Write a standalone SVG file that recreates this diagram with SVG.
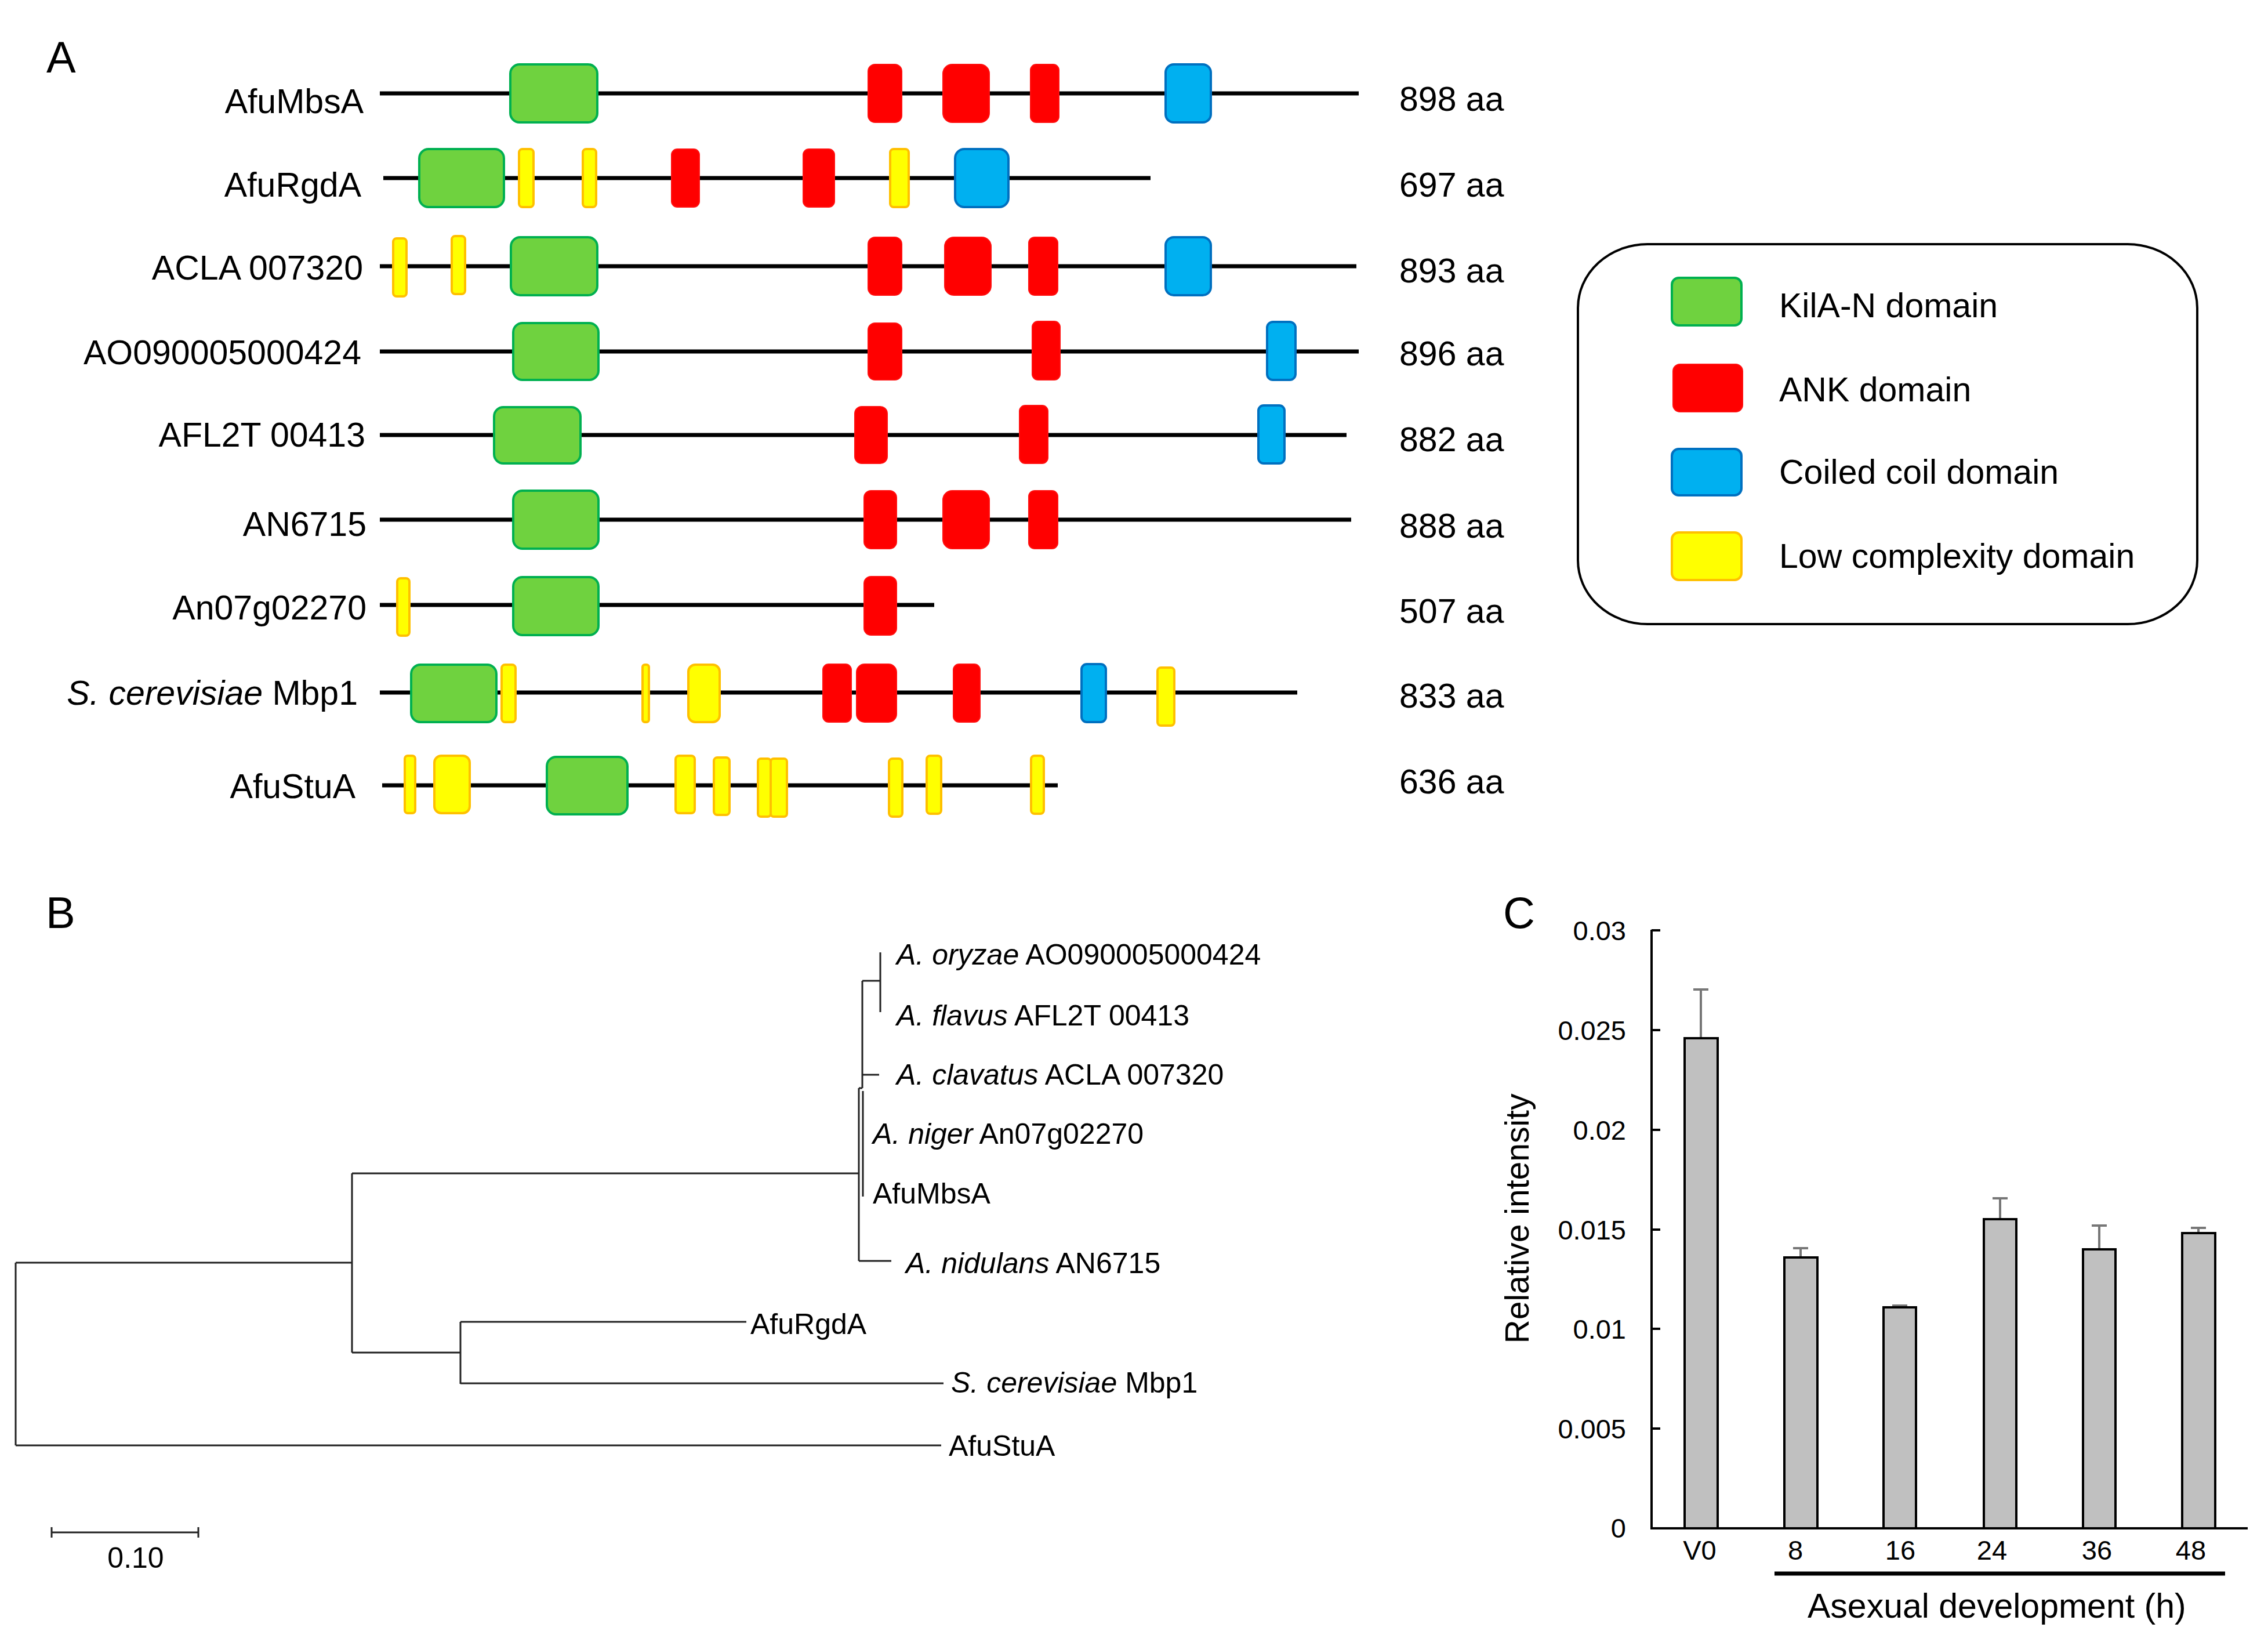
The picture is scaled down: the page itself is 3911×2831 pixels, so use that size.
<svg xmlns="http://www.w3.org/2000/svg" width="3911" height="2831" viewBox="0 0 3911 2831">
<style>
text{font-family:"Liberation Sans",Arial,sans-serif;fill:#000}
.lbl{font-size:59px;text-anchor:end}
.aa{font-size:59px}
.leg{font-size:59px}
.pl{font-size:76px}
.tl{font-size:50px}
.tk{font-size:47px;text-anchor:end}
.xl{font-size:47px;text-anchor:middle}
.bb{stroke:#000;stroke-width:7;fill:none}
.g{fill:#6fd23f;stroke:#00b050;stroke-width:4}
.r{fill:#ff0000;stroke:#ff1010;stroke-width:2}
.b{fill:#00b0f0;stroke:#0070c0;stroke-width:4}
.y{fill:#ffff00;stroke:#ffc000;stroke-width:4}
.tr{stroke:#222;stroke-width:3;fill:none}
.ax{stroke:#000;stroke-width:4;fill:none}
.bar{fill:#c0c0c0;stroke:#000;stroke-width:4}
.err{stroke:#777;stroke-width:4;fill:none}
</style>
<rect width="3911" height="2831" fill="#fff"/>
<g id="panelA">
<text class="pl" x="80" y="125">A</text>
<g id="rowA1">
<line class="bb" x1="655" y1="161" x2="2343" y2="161"/>
<rect class="g" x="880" y="111" width="150" height="100" rx="16"/>
<rect class="r" x="1497" y="111" width="58" height="100" rx="12"/>
<rect class="r" x="1626" y="111" width="80" height="100" rx="16"/>
<rect class="r" x="1777" y="111" width="49" height="100" rx="10"/>
<rect class="b" x="2010" y="111" width="78" height="100" rx="14"/>
<text class="lbl" x="627" y="195">AfuMbsA</text>
<text class="aa" x="2413" y="191">898 aa</text>
</g>
<g id="rowA2">
<line class="bb" x1="661" y1="307" x2="1984" y2="307"/>
<rect class="g" x="723" y="257" width="146" height="100" rx="16"/>
<rect class="y" x="895" y="257" width="25" height="100" rx="6"/>
<rect class="y" x="1005" y="257" width="23" height="100" rx="6"/>
<rect class="r" x="1158" y="257" width="48" height="100" rx="10"/>
<rect class="r" x="1385" y="257" width="54" height="100" rx="10"/>
<rect class="y" x="1535" y="257" width="32" height="100" rx="6"/>
<rect class="b" x="1647" y="257" width="92" height="100" rx="16"/>
<text class="lbl" x="623" y="339">AfuRgdA</text>
<text class="aa" x="2413" y="339">697 aa</text>
</g>
<g id="rowA3">
<line class="bb" x1="655" y1="459" x2="2339" y2="459"/>
<rect class="y" x="678" y="411" width="23" height="100" rx="6"/>
<rect class="y" x="779" y="407" width="23" height="100" rx="6"/>
<rect class="g" x="881" y="409" width="149" height="100" rx="16"/>
<rect class="r" x="1497" y="409" width="58" height="100" rx="12"/>
<rect class="r" x="1629" y="409" width="80" height="100" rx="16"/>
<rect class="r" x="1774" y="409" width="50" height="100" rx="10"/>
<rect class="b" x="2010" y="409" width="78" height="100" rx="14"/>
<text class="lbl" x="626" y="482">ACLA 007320</text>
<text class="aa" x="2413" y="487">893 aa</text>
</g>
<g id="rowA4">
<line class="bb" x1="655" y1="606" x2="2343" y2="606"/>
<rect class="g" x="885" y="557" width="147" height="98" rx="16"/>
<rect class="r" x="1497" y="557" width="58" height="98" rx="12"/>
<rect class="r" x="1780" y="554" width="48" height="101" rx="10"/>
<rect class="b" x="2185" y="555" width="49" height="100" rx="10"/>
<text class="lbl" x="623" y="628">AO090005000424</text>
<text class="aa" x="2413" y="630">896 aa</text>
</g>
<g id="rowA5">
<line class="bb" x1="655" y1="750" x2="2322" y2="750"/>
<rect class="g" x="852" y="702" width="149" height="97" rx="16"/>
<rect class="r" x="1474" y="701" width="56" height="98" rx="12"/>
<rect class="r" x="1758" y="699" width="49" height="100" rx="10"/>
<rect class="b" x="2170" y="699" width="45" height="100" rx="9"/>
<text class="lbl" x="630" y="770">AFL2T 00413</text>
<text class="aa" x="2413" y="778">882 aa</text>
</g>
<g id="rowA6">
<line class="bb" x1="655" y1="896" x2="2330" y2="896"/>
<rect class="g" x="885" y="846" width="147" height="100" rx="16"/>
<rect class="r" x="1490" y="846" width="56" height="100" rx="12"/>
<rect class="r" x="1626" y="846" width="80" height="100" rx="16"/>
<rect class="r" x="1774" y="846" width="50" height="100" rx="10"/>
<text class="lbl" x="632" y="924">AN6715</text>
<text class="aa" x="2413" y="927">888 aa</text>
</g>
<g id="rowA7">
<line class="bb" x1="655" y1="1043" x2="1611" y2="1043"/>
<rect class="y" x="685" y="997" width="21" height="99" rx="6"/>
<rect class="g" x="885" y="995" width="147" height="100" rx="16"/>
<rect class="r" x="1490" y="994" width="56" height="101" rx="12"/>
<text class="lbl" x="632" y="1068">An07g02270</text>
<text class="aa" x="2413" y="1074">507 aa</text>
</g>
<g id="rowA8">
<line class="bb" x1="655" y1="1194" x2="2237" y2="1194"/>
<rect class="g" x="709" y="1146" width="147" height="99" rx="16"/>
<rect class="y" x="865" y="1146" width="24" height="99" rx="6"/>
<rect class="y" x="1108" y="1146" width="11" height="99" rx="4"/>
<rect class="y" x="1187" y="1146" width="54" height="99" rx="12"/>
<rect class="r" x="1419" y="1145" width="49" height="100" rx="10"/>
<rect class="r" x="1477" y="1145" width="69" height="100" rx="14"/>
<rect class="r" x="1644" y="1145" width="46" height="100" rx="10"/>
<rect class="b" x="1865" y="1145" width="42" height="100" rx="9"/>
<rect class="y" x="1996" y="1151" width="29" height="100" rx="6"/>
<text class="lbl" x="617" y="1215"><tspan font-style="italic">S. cerevisiae</tspan> Mbp1</text>
<text class="aa" x="2413" y="1220">833 aa</text>
</g>
<g id="rowA9">
<line class="bb" x1="659" y1="1354" x2="1824" y2="1354"/>
<rect class="y" x="698" y="1303" width="18" height="99" rx="5"/>
<rect class="y" x="749" y="1303" width="61" height="99" rx="12"/>
<rect class="g" x="943" y="1305" width="139" height="99" rx="16"/>
<rect class="y" x="1165" y="1303" width="33" height="99" rx="6"/>
<rect class="y" x="1231" y="1306" width="27" height="99" rx="6"/>
<rect class="y" x="1307" y="1308" width="22" height="100" rx="5"/>
<rect class="y" x="1329" y="1308" width="28" height="100" rx="5"/>
<rect class="y" x="1533" y="1308" width="23" height="100" rx="6"/>
<rect class="y" x="1598" y="1303" width="25" height="100" rx="6"/>
<rect class="y" x="1778" y="1303" width="22" height="100" rx="6"/>
<text class="lbl" x="613" y="1376">AfuStuA</text>
<text class="aa" x="2413" y="1368">636 aa</text>
</g>
<g id="legend">
<rect x="2721" y="421" width="1068" height="655" rx="120" ry="110" fill="none" stroke="#000" stroke-width="4"/>
<rect class="g" x="2883" y="479" width="120" height="82" rx="12"/>
<rect class="r" x="2885" y="628" width="120" height="82" rx="12"/>
<rect class="b" x="2883" y="774" width="120" height="80" rx="12"/>
<rect class="y" x="2883" y="918" width="120" height="82" rx="12"/>
<text class="leg" x="3068" y="547">KilA-N domain</text>
<text class="leg" x="3068" y="692">ANK domain</text>
<text class="leg" x="3068" y="834">Coiled coil domain</text>
<text class="leg" x="3068" y="979">Low complexity domain</text>
</g>
</g>
<g id="panelB">
<text class="pl" x="79" y="1600">B</text>
<g id="tree-connectors">
<path class="tr" d="M27 2177 V2492 M27 2177 H607 M607 2023 V2332 M607 2023 H1481 M607 2332 H794 M794 2279 V2386 M794 2279 H1287 M794 2385 H1627 M27 2492 H1623 M1481 1876 V2174 M1481 1876 H1487 M1487 1691 V1876 M1487 1691 H1518 M1518 1642 V1745 M1487 1853 H1516 M1488 1881 V2063 M1481 2174 H1537"/>
<path class="tr" d="M89 2642 H342 M89 2633 V2651 M342 2633 V2651"/>
</g>
<text class="tl" x="234" y="2703" text-anchor="middle" font-size="46">0.10</text>
<text class="tl" x="1546" y="1663"><tspan font-style="italic">A. oryzae</tspan> AO090005000424</text>
<text class="tl" x="1546" y="1768"><tspan font-style="italic">A. flavus</tspan> AFL2T 00413</text>
<text class="tl" x="1546" y="1870"><tspan font-style="italic">A. clavatus</tspan> ACLA 007320</text>
<text class="tl" x="1505" y="1972"><tspan font-style="italic">A. niger</tspan> An07g02270</text>
<text class="tl" x="1505" y="2075">AfuMbsA</text>
<text class="tl" x="1562" y="2195"><tspan font-style="italic">A. nidulans</tspan> AN6715</text>
<text class="tl" x="1294" y="2300">AfuRgdA</text>
<text class="tl" x="1640" y="2401"><tspan font-style="italic">S. cerevisiae</tspan> Mbp1</text>
<text class="tl" x="1636" y="2510">AfuStuA</text>
</g>
<g id="panelC">
<text class="pl" x="2592" y="1600">C</text>
<path class="ax" d="M2848 1603 V2635 H3876 M2848 1604 H2863 M2848 1776 H2863 M2848 1948 H2863 M2848 2120 H2863 M2848 2291 H2863 M2848 2463 H2863"/>
<text class="tk" x="2804" y="1621">0.03</text>
<text class="tk" x="2804" y="1793">0.025</text>
<text class="tk" x="2804" y="1965">0.02</text>
<text class="tk" x="2804" y="2137">0.015</text>
<text class="tk" x="2804" y="2308">0.01</text>
<text class="tk" x="2804" y="2480">0.005</text>
<text class="tk" x="2804" y="2651">0</text>
<g id="errors">
<path class="err" d="M2933 1790 V1706 M2920 1706 H2946 M3105 2168 V2152 M3092 2152 H3118 M3276 2254 V2251 M3263 2251 H3289 M3449 2102 V2066 M3436 2066 H3462 M3620 2154 V2113 M3607 2113 H3633 M3791 2126 V2117 M3778 2117 H3804"/>
</g>
<g id="bars">
<rect class="bar" x="2905" y="1790" width="57" height="845"/>
<rect class="bar" x="3077" y="2168" width="57" height="467"/>
<rect class="bar" x="3248" y="2254" width="56" height="381"/>
<rect class="bar" x="3421" y="2102" width="56" height="533"/>
<rect class="bar" x="3592" y="2154" width="56" height="481"/>
<rect class="bar" x="3763" y="2126" width="57" height="509"/>
</g>
<text class="xl" x="2931" y="2689">V0</text>
<text class="xl" x="3096" y="2689">8</text>
<text class="xl" x="3277" y="2689">16</text>
<text class="xl" x="3435" y="2689">24</text>
<text class="xl" x="3616" y="2689">36</text>
<text class="xl" x="3778" y="2689">48</text>
<line x1="3060" y1="2713" x2="3837" y2="2713" stroke="#000" stroke-width="7"/>
<text x="3117" y="2789" font-size="59">Asexual development (h)</text>
<text x="0" y="0" font-size="57" text-anchor="middle" transform="translate(2636 2101) rotate(-90)">Relative intensity</text>
</g>
</svg>
